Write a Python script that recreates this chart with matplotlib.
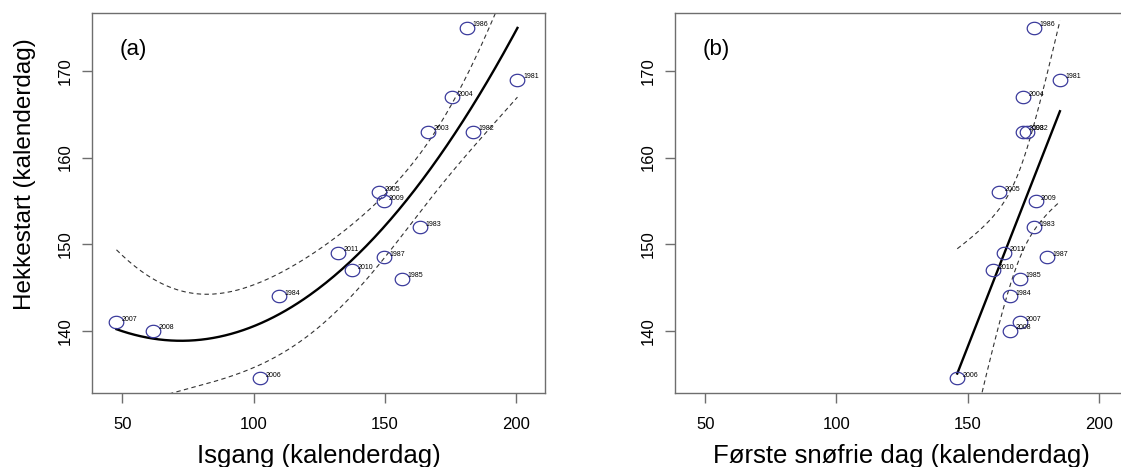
import numpy as np
import matplotlib
matplotlib.use("Agg")
import matplotlib.pyplot as plt
from matplotlib.path import Path

plt.rcParams["font.family"] = ["Liberation Sans", "DejaVu Sans"]

# Data
years = ["1981", "1982", "1983", "1984", "1985", "1986", "1987", "2003",
         "2004", "2005", "2006", "2007", "2008", "2009", "2010", "2011"]
hekkestart = [169, 163, 152, 144, 146, 175, 148.5, 163,
              167, 156, 134.5, 141, 140, 155, 147, 149]
isgang = [200.5, 183.5, 163.4, 109.6, 156.4, 181.3, 149.5, 166.6,
          175.5, 147.7, 102.6, 47.8, 61.9, 149.5, 137.5, 132.3]
snofri = [185.1, 172.5, 175.1, 166.0, 170.0, 175.1, 180.2, 171.1,
          171.1, 161.8, 146.0, 170.0, 166.0, 175.8, 159.6, 163.8]

circle_col = "#3c3c9c"
axis_col = "#6e6e6e"

# slightly wide ellipse marker (original image is stretched horizontally)
t = np.linspace(0, 2 * np.pi, 60)
ell = Path(np.column_stack([np.cos(t), 0.85 * np.sin(t)]), closed=True)


def fit_with_ci(x, y, deg, tval):
    x = np.asarray(x, float)
    y = np.asarray(y, float)
    X = np.vander(x, deg + 1, increasing=True)
    beta, *_ = np.linalg.lstsq(X, y, rcond=None)
    resid = y - X @ beta
    s2 = resid @ resid / (len(x) - deg - 1)
    cov = np.linalg.inv(X.T @ X)
    xs = np.linspace(x.min(), x.max(), 200)
    Xs = np.vander(xs, deg + 1, increasing=True)
    yfit = Xs @ beta
    se = np.sqrt(s2 * np.einsum("ij,jk,ik->i", Xs, cov, Xs))
    return xs, yfit, yfit - tval * se, yfit + tval * se


fig = plt.figure(figsize=(11.21, 4.67), dpi=100)
ax1 = fig.add_axes([0.0821, 0.1585, 0.4041, 0.8137])
ax2 = fig.add_axes([0.6021, 0.1585, 0.4041, 0.8137])

panels = [(ax1, isgang, 2, 2.160, "(a)", "Isgang (kalenderdag)"),
          (ax2, snofri, 1, 2.145, "(b)", "Første snøfrie dag (kalenderdag)")]

for ax, xv, deg, tv, tag, xlab in panels:
    xs, yf, lo, hi = fit_with_ci(xv, hekkestart, deg, tv)
    ax.plot(xs, yf, color="black", lw=1.7)
    ax.plot(xs, lo, color="#333333", lw=0.8, dashes=(4, 3))
    ax.plot(xs, hi, color="#333333", lw=0.8, dashes=(4, 3))
    ax.plot(xv, hekkestart, ls="none", marker=ell, ms=10.5, mfc="none",
            mec=circle_col, mew=0.9)
    for xi, yi, lab in zip(xv, hekkestart, years):
        ax.annotate(lab, (xi, yi), xytext=(4, 2), textcoords="offset points",
                    fontsize=5, ha="left", va="center")
    ax.set_xlim(38.5, 211)
    ax.set_ylim(132.8, 176.7)
    ax.set_xticks([50, 100, 150, 200])
    ax.set_yticks([140, 150, 160, 170])
    ax.set_yticklabels(["140", "150", "160", "170"], rotation=90, va="center")
    ax.tick_params(axis="both", direction="out", length=7, width=1,
                   color=axis_col, labelsize=12)
    ax.tick_params(axis="x", pad=10)
    ax.tick_params(axis="y", pad=7)
    for sp in ax.spines.values():
        sp.set_color(axis_col)
        sp.set_linewidth(1)
    ax.text(0.062, 0.903, tag, transform=ax.transAxes, fontsize=16,
            ha="left", va="center")
    ax.set_xlabel(xlab, fontsize=18.5, labelpad=9)

ax1.set_ylabel("Hekkestart (kalenderdag)", fontsize=17.5, va="center")
ax1.yaxis.set_label_coords(-0.148, 0.576)

fig.savefig("out.png", dpi=100)
